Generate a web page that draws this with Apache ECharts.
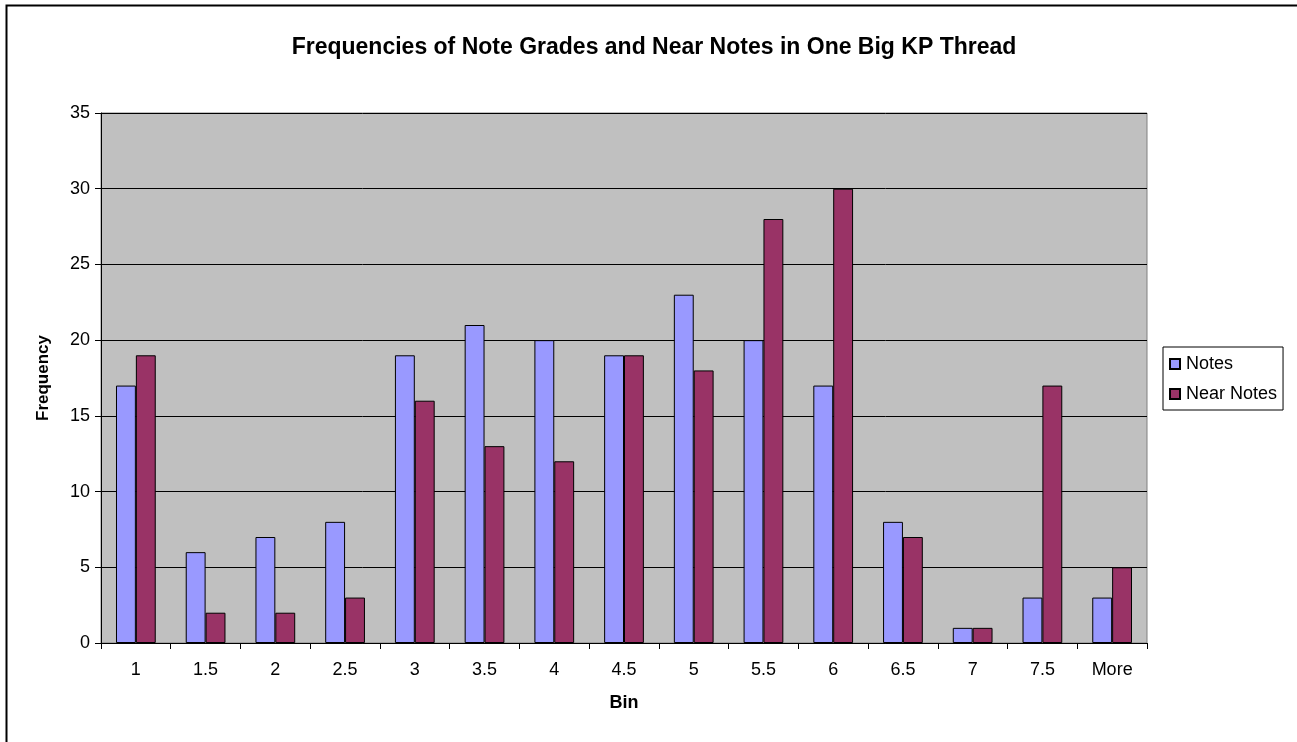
<!DOCTYPE html>
<html>
<head>
<meta charset="utf-8">
<style>
  html, body { margin: 0; padding: 0; background: #ffffff; }
  #chart { width: 1297px; height: 742px; }
</style>
<script src="https://cdn.jsdelivr.net/npm/echarts@6/dist/echarts.min.js"></script>
</head>
<body>
<div id="chart"></div>
<script>
// Histogram bins and counts per bin
const bins = ['1', '1.5', '2', '2.5', '3', '3.5', '4', '4.5', '5', '5.5', '6', '6.5', '7', '7.5', 'More'];
const notes = [17, 6, 7, 8, 19, 21, 20, 19, 23, 20, 17, 8, 1, 3, 3];
const nearNotes = [19, 2, 2, 3, 16, 13, 12, 19, 18, 28, 30, 7, 1, 17, 5];
const yTicks = { min: 0, max: 35, interval: 5 };

const font = 'Liberation Sans, Arial, sans-serif';
const chart = echarts.init(document.getElementById('chart'), null, { renderer: 'canvas' });

chart.setOption({
  backgroundColor: '#ffffff',
  animation: false,
  title: {
    text: 'Frequencies of Note Grades and Near Notes in One Big KP Thread',
    left: 649,
    textAlign: 'center',
    top: 31,
    textStyle: { fontFamily: font, fontSize: 23, fontWeight: 'bold', color: '#000000' }
  },
  legend: {
    orient: 'vertical',
    left: 1163,
    top: 347,
    itemWidth: 10,
    itemHeight: 10,
    itemGap: 12,
    padding: [8, 6, 7, 6],
    borderColor: '#000000',
    borderWidth: 1,
    backgroundColor: '#ffffff',
    icon: 'rect',
    textStyle: { fontFamily: font, fontSize: 18, color: '#000000', padding: [0, 0, 0, 1] },
    data: ['Notes', 'Near Notes']
  },
  grid: {
    left: 101,
    top: 113,
    right: 150,
    bottom: 99,
    show: true,
    backgroundColor: '#c0c0c0',
    borderColor: '#808080',
    borderWidth: 1
  },
  xAxis: {
    type: 'category',
    data: bins,
    name: 'Bin',
    nameLocation: 'middle',
    nameGap: 51,
    nameTextStyle: { fontFamily: font, fontSize: 18, fontWeight: 'bold', color: '#000000' },
    axisLine: { lineStyle: { color: '#000000', width: 1 } },
    axisTick: { show: true, length: 6, alignWithLabel: false, lineStyle: { color: '#000000' } },
    axisLabel: { fontFamily: font, fontSize: 18, color: '#000000', margin: 18 }
  },
  yAxis: {
    type: 'value',
    min: yTicks.min,
    max: yTicks.max,
    interval: yTicks.interval,
    name: 'Frequency',
    nameLocation: 'middle',
    nameGap: 49,
    nameRotate: 90,
    nameTextStyle: { fontFamily: font, fontSize: 17, fontWeight: 'bold', color: '#000000' },
    axisLine: { show: true, lineStyle: { color: '#000000', width: 1 } },
    axisTick: { show: true, length: 6, lineStyle: { color: '#000000' } },
    axisLabel: { fontFamily: font, fontSize: 18, color: '#000000', margin: 11 },
    splitLine: { show: true, lineStyle: { color: '#000000', width: 1 } }
  },
  series: [
    {
      name: 'Notes',
      type: 'bar',
      data: notes,
      barGap: '0%',
      barCategoryGap: '43%',
      itemStyle: { color: '#9999ff', borderColor: '#000000', borderWidth: 1 }
    },
    {
      name: 'Near Notes',
      type: 'bar',
      data: nearNotes,
      barGap: '0%',
      barCategoryGap: '43%',
      itemStyle: { color: '#993366', borderColor: '#000000', borderWidth: 1 }
    }
  ],
  graphic: [
    {
      type: 'rect',
      left: 4,
      top: 3,
      shape: { width: 1300, height: 760 },
      style: { fill: 'none', stroke: '#000000', lineWidth: 2 },
      silent: true,
      z: 100
    }
  ]
});
</script>
</body>
</html>
